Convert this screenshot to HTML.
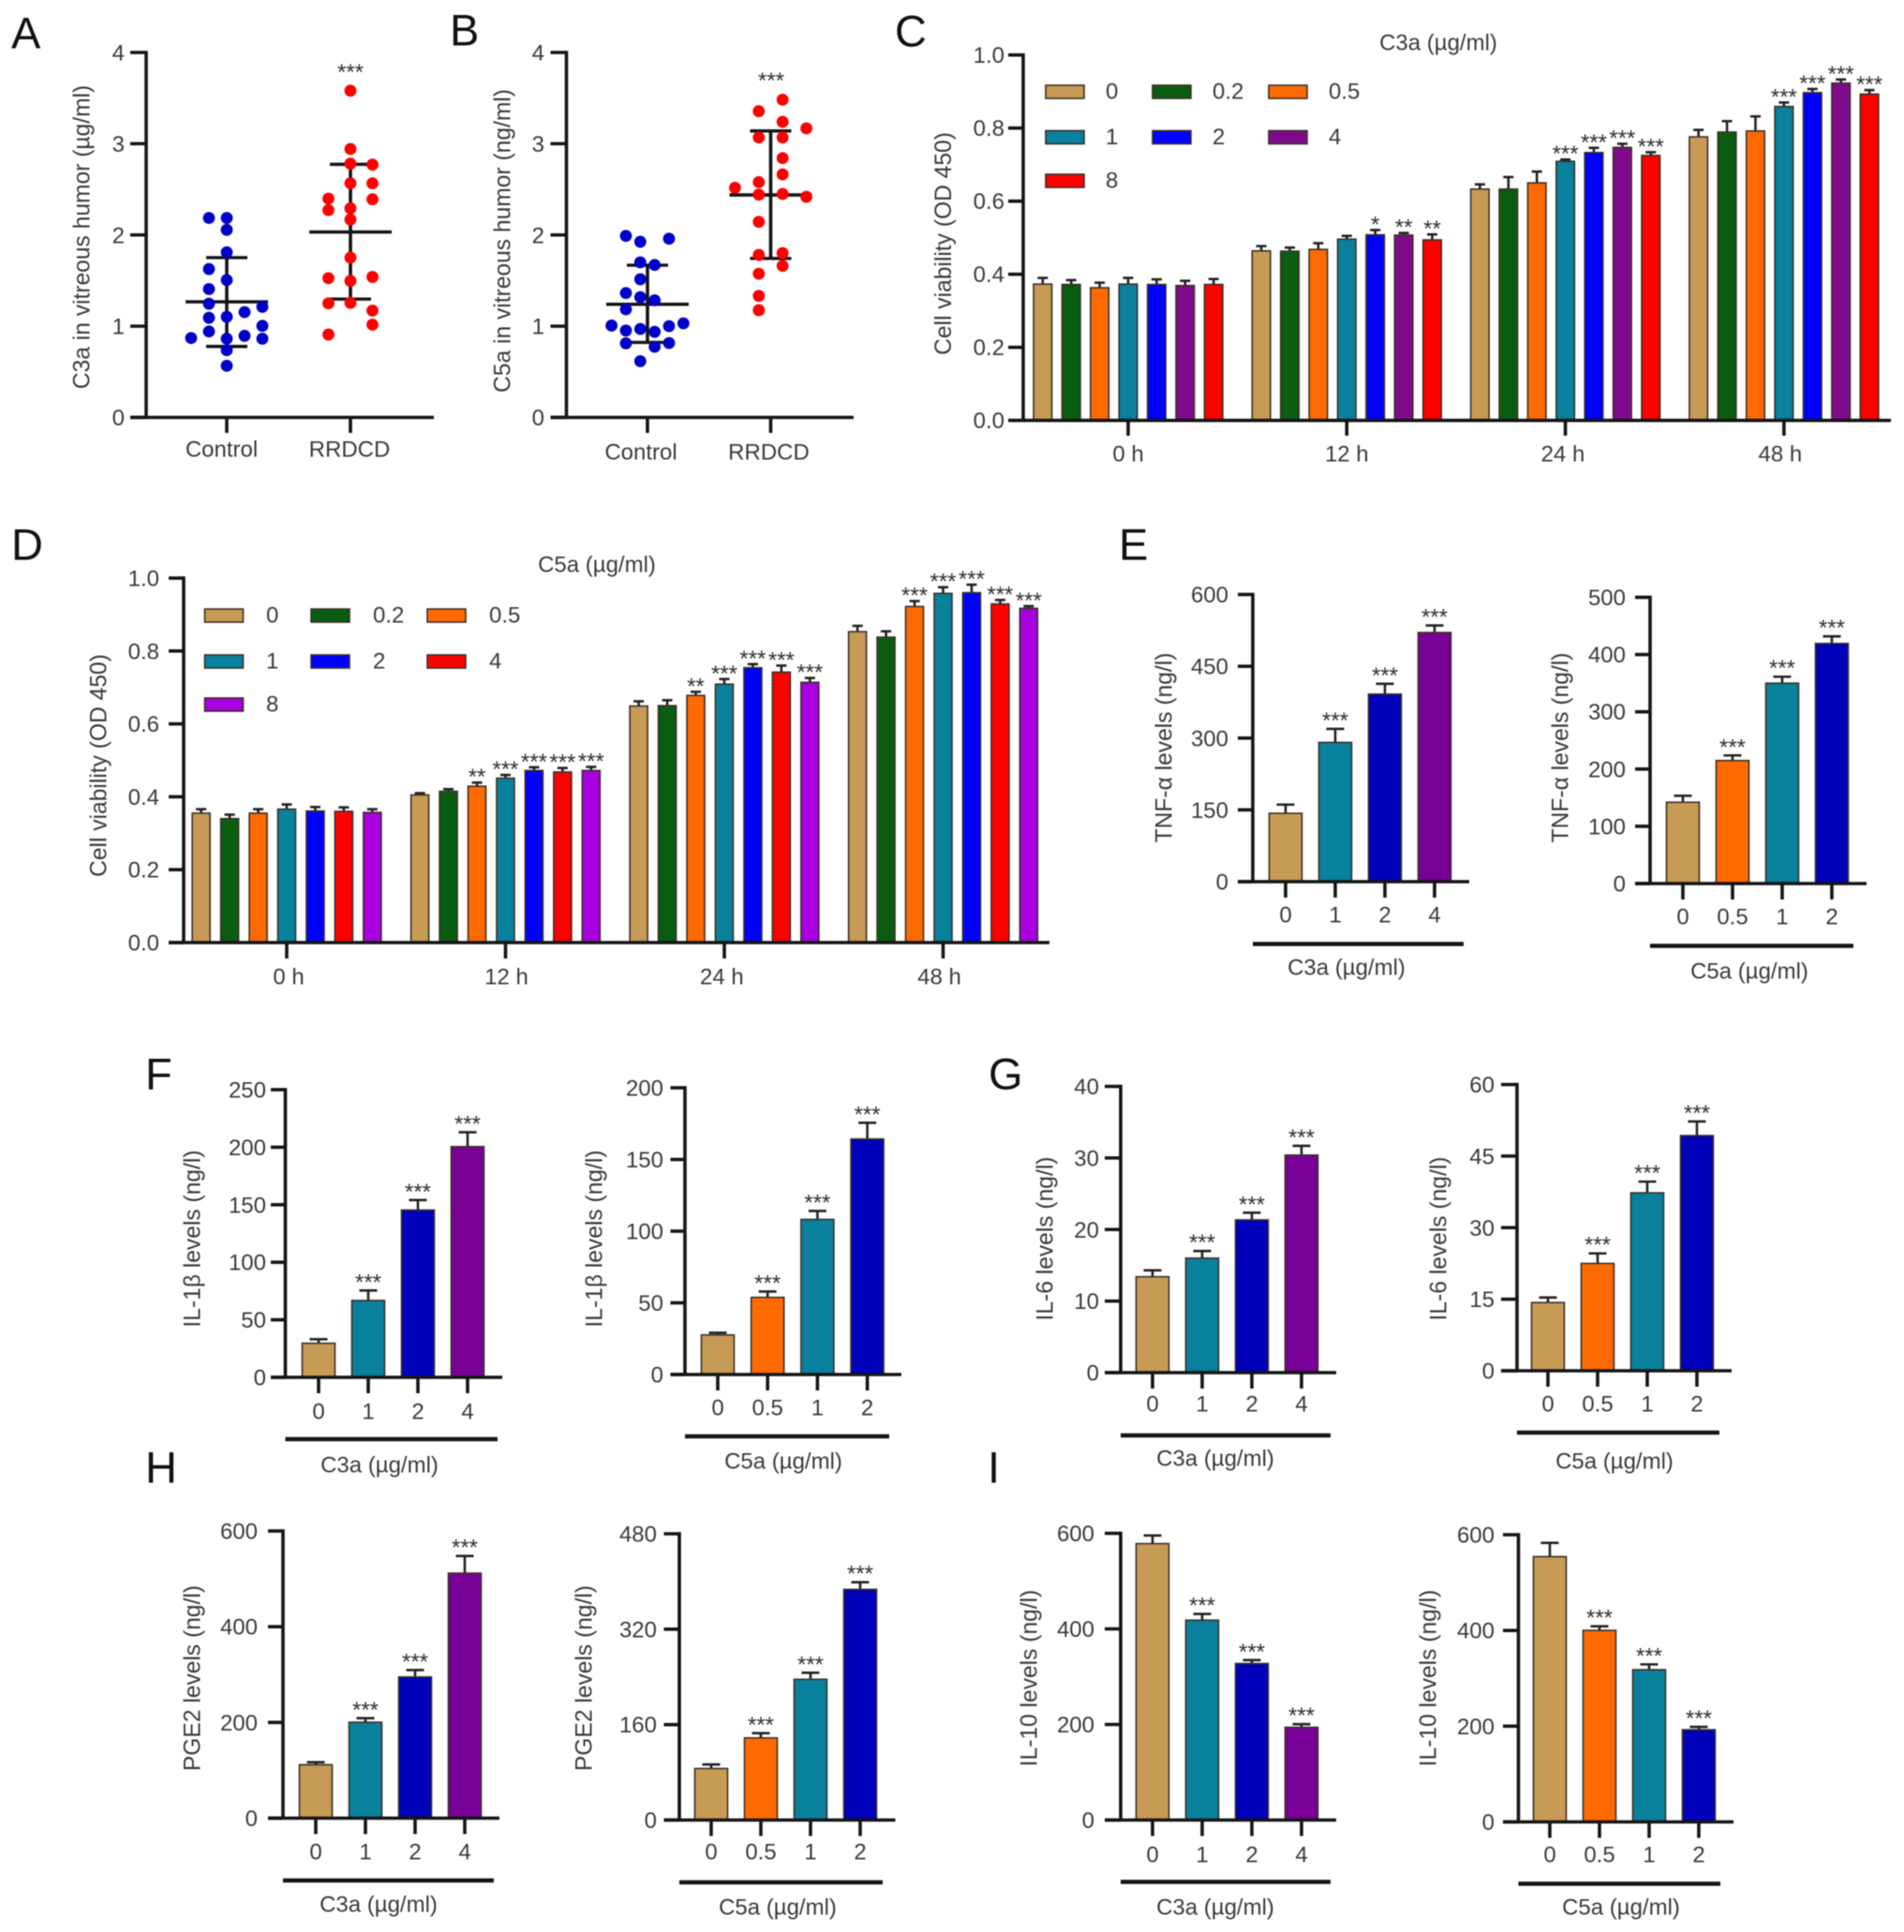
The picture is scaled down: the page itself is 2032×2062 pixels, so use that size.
<!DOCTYPE html>
<html lang="en">
<head>
<meta charset="utf-8">
<title>C3a and C5a levels, cell viability and cytokine panels</title>
<style>
html,body{margin:0;padding:0;background:#fff;width:2032px;height:2062px;overflow:hidden}
svg{display:block;filter:blur(.55px)}
text{font-family:"Liberation Sans",sans-serif;font-size:24px;fill:#3a3a3a}
.letter{font-size:47px;fill:#111;dominant-baseline:central}
.ytitle{font-size:24.6px}
.star{fill:#303030}
</style>
</head>
<body>
<svg id="figure" xmlns="http://www.w3.org/2000/svg" width="2032" height="2062" viewBox="0 0 2032 2062">
  <text class="letter" x="12" y="35">A</text>
  <text class="letter" x="480" y="32">B</text>
  <text class="letter" x="955" y="33">C</text>
  <text class="letter" x="12" y="581">D</text>
  <text class="letter" x="1194" y="581">E</text>
  <text class="letter" x="155" y="1146">F</text>
  <text class="letter" x="1055" y="1146">G</text>
  <text class="letter" x="155" y="1566">H</text>
  <text class="letter" x="1054" y="1566">I</text>
</svg>
<script>
/* ---------- shared categories ---------- */
const groupLabels = ['Control', 'RRDCD'];
const timeLabels = ['0 h', '12 h', '24 h', '48 h'];
const doseSeries = ['0', '0.2', '0.5', '1', '2', '4', '8'];
const c3aDoses = ['0', '1', '2', '4'];
const c5aDoses = ['0', '0.5', '1', '2'];

/* ---------- panel A ---------- */
const aTicks = ['0', '1', '2', '3', '4'];
const aControlValues = [2.186,2.186,2.056,1.81,1.626,1.506,1.407,1.246,1.212,1.154,1.092,1.103,1.003,0.942,0.87,0.894,0.863,0.863,0.737,0.566];
const aControlSwarm = [-1,0,0,0,-1,0,-1,-1,2,1,-1,0,2,-1,-2,1,2,0,0,0];
const aControlStats = [1.267, 0.778, 1.752];
const aDiseaseValues = [3.581,2.942,2.781,2.771,2.566,2.566,2.398,2.391,2.272,2.292,2.169,1.752,1.526,1.54,1.496,1.25,1.256,1.171,1.017,0.908];
const aDiseaseSwarm = [0,0,0,1,0,1,-1,1,-1,0,0,0,-1,1,0,-1,0,1,1,-1];
const aDiseaseStats = [2.032, 1.297, 2.774];

/* ---------- panel B ---------- */
const bTicks = ['0', '1', '2', '3', '4'];
const bControlValues = [1.99,1.925,1.959,1.70,1.671,1.514,1.363,1.318,1.284,1.185,1.007,0.952,0.969,0.938,1.0,1.031,0.812,0.774,0.815,0.616];
const bControlSwarm = [-3,-1,3,-1,1,-1,-3,-1,1,-3,-5,-3,-1,1,3,5,-3,1,3,-1];
const bControlStats = [1.24, 0.822, 1.668];
const bDiseaseValues = [3.483,3.356,3.24,3.168,3.068,3.068,2.842,2.664,2.579,2.517,2.442,2.449,2.418,2.144,1.781,1.801,1.661,1.575,1.332,1.175];
const bDiseaseSwarm = [1,-1,1,3,-1,1,1,1,-1,-3,-1,1,3,-1,-1,1,1,-1,-1,-1];
const bDiseaseStats = [2.438, 1.743, 3.14];

/* ---------- panel C ---------- */
const cTicks = ['0.0', '0.2', '0.4', '0.6', '0.8', '1.0'];
const c0hValues = [0.373,0.372,0.363,0.373,0.372,0.369,0.372];
const c0hErrors = [0.017,0.012,0.014,0.017,0.014,0.013,0.015];
const c0hStars = ['','','','','','',''];
const c12hValues = [0.464,0.463,0.468,0.496,0.508,0.507,0.494];
const c12hErrors = [0.013,0.010,0.017,0.009,0.013,0.006,0.015];
const c12hStars = ['','','','','*','**','**'];
const c24hValues = [0.633,0.633,0.650,0.709,0.733,0.747,0.725];
const c24hErrors = [0.013,0.033,0.031,0.005,0.013,0.010,0.009];
const c24hStars = ['','','','***','***','***','***'];
const c48hValues = [0.776,0.789,0.792,0.859,0.897,0.923,0.893];
const c48hErrors = [0.019,0.030,0.040,0.011,0.010,0.010,0.011];
const c48hStars = ['','','','***','***','***','***'];

/* ---------- panel D ---------- */
const dTicks = ['0.0', '0.2', '0.4', '0.6', '0.8', '1.0'];
const d0hValues = [0.355,0.340,0.355,0.366,0.361,0.360,0.357];
const d0hErrors = [0.011,0.011,0.011,0.013,0.011,0.011,0.009];
const d0hStars = ['','','','','','',''];
const d12hValues = [0.405,0.415,0.429,0.451,0.472,0.468,0.472];
const d12hErrors = [0.005,0.006,0.010,0.009,0.009,0.011,0.010];
const d12hStars = ['','','**','***','***','***','***'];
const d24hValues = [0.649,0.650,0.678,0.709,0.754,0.742,0.714];
const d24hErrors = [0.013,0.015,0.010,0.014,0.010,0.018,0.012];
const d24hStars = ['','','**','***','***','***','***'];
const d48hValues = [0.853,0.838,0.922,0.958,0.960,0.929,0.917];
const d48hErrors = [0.016,0.016,0.015,0.017,0.022,0.011,0.006];
const d48hStars = ['','','***','***','***','***','***'];

/* ---------- panels E to I ---------- */
const e1Ticks = ['0', '150', '300', '450', '600'];
const e1Values = [142.8, 290.9, 391.9, 520.5];
const e1Errors = [18.2, 28.3, 21.5, 14.8];
const e2Ticks = ['0', '100', '200', '300', '400', '500'];
const e2Values = [142, 214.8, 350, 419.4];
const e2Errors = [11.3, 9, 11.3, 12.4];
const f1Ticks = ['0', '50', '100', '150', '200', '250'];
const f1Values = [29.6, 66.8, 145.4, 200.5];
const f1Errors = [3.5, 8.7, 8.7, 12.5];
const f2Ticks = ['0', '50', '100', '150', '200'];
const f2Values = [27.6, 53.8, 108.2, 164.3];
const f2Errors = [1.5, 4.1, 5.9, 11.3];
const g1Ticks = ['0', '10', '20', '30', '40'];
const g1Values = [13.4, 16.0, 21.35, 30.4];
const g1Errors = [0.9, 1.0, 1.0, 1.3];
const g2Ticks = ['0', '15', '30', '45', '60'];
const g2Values = [14.3, 22.5, 37.3, 49.3];
const g2Errors = [1.05, 2.1, 2.35, 2.95];
const h1Ticks = ['0', '200', '400', '600'];
const h1Values = [111.6, 200.4, 295, 511.9];
const h1Errors = [5.2, 8.5, 14.4, 35.9];
const h2Ticks = ['0', '160', '320', '480'];
const h2Values = [86.4, 137.7, 236, 386.8];
const h2Errors = [6.8, 7.9, 11, 12];
const i1Ticks = ['0', '200', '400', '600'];
const i1Values = [578.4, 418.3, 327.5, 194.1];
const i1Errors = [17, 13, 7.2, 6.5];
const i2Ticks = ['0', '200', '400', '600'];
const i2Values = [554.3, 400.2, 318, 192.6];
const i2Errors = [28.7, 8.5, 11.1, 5.9];
const smallStars = ['', '***', '***', '***'];

/* ---------- palettes ---------- */
const TAN = '#c79a55', GREEN = '#0a5c10', ORANGE = '#ff6a00', TEAL = '#09809c', BLUE = '#0000ff',
      PURPLE = '#800a8c', RED = '#ff0000', VIOLET = '#a800e0', NAVY = '#0000bb', PLUM = '#780096';
const cPalette = [TAN, GREEN, ORANGE, TEAL, BLUE, PURPLE, RED];
const dPalette = [TAN, GREEN, ORANGE, TEAL, BLUE, RED, VIOLET];
const c3aPalette = [TAN, TEAL, NAVY, PLUM];
const c5aPalette = [TAN, ORANGE, TEAL, NAVY];

/* ---------- helpers ---------- */
const svg = document.getElementById('figure');
const NS = 'http://www.w3.org/2000/svg';
function add(tag, parent, name) {
  const el = document.createElementNS(NS, tag);
  
  
  parent.appendChild(el);
  return el;
}
function setAll(el, geometry) {
  for (const k in geometry) el.setAttribute(k, geometry[k]);
  return el;
}
function line(parent, name, x1, y1, x2, y2, width, colour) {
  return setAll(add('line', parent, name), {x1, y1, x2, y2, stroke: colour || '#151515', 'stroke-width': width || 3.6});
}
function label(parent, name, str, x, y, anchor, rotate) {
  const t = add('text', parent, name);
  t.textContent = str;
  setAll(t, {x, y, 'text-anchor': anchor || 'middle', 'dominant-baseline': 'central'});
  if (rotate) t.setAttribute('transform', 'rotate(-90 ' + x + ' ' + y + ')');
  return t;
}
function stars(parent, name, str, x, centreY) {
  const t = add('text', parent, name);
  t.textContent = str;
  setAll(t, {x, y: centreY + 14, 'text-anchor': 'middle', class: 'star'});
  return t;
}
function makeY(cfg, ticks) {
  const max = Number(ticks[ticks.length - 1]);
  return v => cfg.y0 - (v / max) * (cfg.y0 - cfg.yTop);
}
function drawYAxis(g, cfg, ticks, y) {
  const axis = add('g', g, 'y-axis');
  line(axis, 'y-axis-line', cfg.axisX, cfg.yTop - 1.8, cfg.axisX, cfg.y0, 3.6);
  ticks.forEach(t => {
    const py = y(Number(t));
    line(axis, 'y-tick', cfg.tickLeft, py, cfg.axisX, py, 3.6);
    label(axis, 'y-tick-label', t, cfg.tickRight, py + 1, 'end');
  });
  label(axis, 'y-axis-title', cfg.yTitle, cfg.yTitleX, cfg.yTitleY, 'middle', true).setAttribute('class', 'ytitle');
}
function drawBar(parent, name, cx, value, error, width, capHalf, colour, y) {
  const top = y(value), errTop = y(value + error);
  line(parent, name + '-error-stem', cx, top, cx, errTop, 2.6, '#222');
  line(parent, name + '-error-cap', cx - capHalf, errTop, cx + capHalf, errTop, 2.6, '#222');
  setAll(add('rect', parent, name), {x: cx - width / 2, y: top, width, height: y(0) - top, fill: colour, stroke: '#3a3026', 'stroke-width': 1.6});
  return errTop;
}

/* ---------- scatter panels ---------- */
function drawScatter(cfg, ticks, groups) {
  const g = add('g', svg, cfg.name);
  const y = makeY(cfg, ticks);
  groups.forEach((grp, i) => {
    const cx = cfg.xStart + i * cfg.xStep;
    const gg = add('g', g, 'group-' + grp.label.toLowerCase());
    const [mean, low, high] = grp.stats;
    line(gg, 'sd-stem', cx, y(low), cx, y(high), 3.6);
    line(gg, 'sd-cap-upper', cx - 22, y(high), cx + 22, y(high), 3.4);
    line(gg, 'sd-cap-lower', cx - 22, y(low), cx + 22, y(low), 3.4);
    line(gg, 'mean-line', cx - 44, y(mean), cx + 44, y(mean), 3.6);
    grp.values.forEach((v, k) => {
      const dot = add('circle', gg, 'data-point');
      setAll(dot, {cx: cx + grp.swarm[k] * grp.unit, cy: y(v), r: 6.4, fill: grp.colour});
    });
  });
  drawYAxis(g, cfg, ticks, y);
  line(g, 'x-axis-line', cfg.tickLeft, cfg.y0, cfg.axisEnd, cfg.y0, 3.6);
  groups.forEach((grp, i) => {
    const cx = cfg.xStart + i * cfg.xStep;
    line(g, 'x-tick', cx, cfg.y0, cx, cfg.tickBottom, 3.6);
    label(g, 'x-tick-label', grp.label, cx + cfg.labelNudge[i], cfg.labelY);
  });
  stars(g, 'significance-stars', '***', cfg.starX, cfg.starY);
}

/* ---------- grouped bar panels ---------- */
function drawGrouped(cfg, ticks, times, seriesValues, seriesErrors, seriesStars, palette, legendNames) {
  const g = add('g', svg, cfg.name);
  const y = makeY(cfg, ticks);
  const mid = (legendNames.length - 1) / 2;
  times.forEach((time, t) => {
    const tx = cfg.xStart + t * cfg.xStep;
    const gg = add('g', g, 'group-' + time.replace(' ', ''));
    seriesValues[t].forEach((v, i) => {
      const cx = tx + (i - mid) * cfg.barStep;
      const errTop = drawBar(gg, 'bar', cx, v, seriesErrors[t][i], cfg.barW, 5.5, palette[i], y);
      if (seriesStars[t][i]) stars(gg, 'significance-stars', seriesStars[t][i], cx, errTop - 12);
    });
  });
  drawYAxis(g, cfg, ticks, y);
  line(g, 'x-axis-line', cfg.tickLeft, cfg.y0, cfg.axisEnd, cfg.y0, 3.6);
  times.forEach((time, t) => {
    const tx = cfg.xStart + t * cfg.xStep;
    line(g, 'x-tick', tx, cfg.y0, tx, cfg.tickBottom, 3.6);
    label(g, 'x-tick-label', time, tx + cfg.labelNudge[t], cfg.labelY);
  });
  label(g, 'legend-title', cfg.title, cfg.titleX, cfg.titleY);
  const legend = add('g', g, 'legend');
  legendNames.forEach((n, i) => {
    const col = i % 3, row = Math.floor(i / 3);
    const entry = add('g', legend, 'legend-entry');
    setAll(add('rect', entry, 'legend-swatch'), {x: cfg.swatchX[col], y: cfg.rowY[row] - 7, width: cfg.swatchW, height: 14, fill: palette[i], stroke: '#3a3026', 'stroke-width': 1.6});
    label(entry, 'legend-label', n, cfg.legendTextX[col], cfg.rowY[row], 'start');
  });
}

/* ---------- small dose-response panels ---------- */
function drawDose(cfg, ticks, doses, values, errors, starMarks, palette) {
  const g = add('g', svg, cfg.name);
  const y = makeY(cfg, ticks);
  doses.forEach((d, i) => {
    const cx = cfg.xStart + i * cfg.xStep;
    const errTop = drawBar(g, 'bar', cx, values[i], errors[i], 35, 9.5, palette[i], y);
    if (starMarks[i]) stars(g, 'significance-stars', starMarks[i], cx, errTop - 15);
  });
  drawYAxis(g, cfg, ticks, y);
  line(g, 'x-axis-line', cfg.tickLeft, cfg.y0, cfg.axisEnd, cfg.y0, 3.6);
  doses.forEach((d, i) => {
    const cx = cfg.xStart + i * cfg.xStep;
    line(g, 'x-tick', cx, cfg.y0, cx, cfg.y0 + 17, 3.6);
    label(g, 'x-tick-label', d, cx, cfg.labelY);
  });
  line(g, 'dose-underline', cfg.axisX, cfg.ruleY, cfg.ruleEnd, cfg.ruleY, 4.6);
  label(g, 'x-axis-title', cfg.title, cfg.titleX, cfg.titleY);
}

/* ---------- draw everything ---------- */
drawScatter({name:'panel-a', axisX:156, tickLeft:139, tickRight:133, axisEnd:463, yTop:56, y0:445.5, xStart:242, xStep:132, tickBottom:462,
  labelY:480, labelNudge:[-5.5,-1], starX:374, starY:71, yTitle:'C3a in vitreous humor (µg/ml)', yTitleX:88, yTitleY:253},
  aTicks, [
    {label:groupLabels[0], values:aControlValues, swarm:aControlSwarm, stats:aControlStats, unit:19, colour:'#0000c8'},
    {label:groupLabels[1], values:aDiseaseValues, swarm:aDiseaseSwarm, stats:aDiseaseStats, unit:23.5, colour:'#ff0000'}
  ]);
drawScatter({name:'panel-b', axisX:604.5, tickLeft:587.5, tickRight:581, axisEnd:911, yTop:56, y0:445.5, xStart:691, xStep:131.5, tickBottom:462,
  labelY:483, labelNudge:[-7,-2], starX:823, starY:80, yTitle:'C5a in vitreous humor (ng/ml)', yTitleX:537, yTitleY:257},
  bTicks, [
    {label:groupLabels[0], values:bControlValues, swarm:bControlSwarm, stats:bControlStats, unit:7.67, colour:'#0000c8'},
    {label:groupLabels[1], values:bDiseaseValues, swarm:bDiseaseSwarm, stats:bDiseaseStats, unit:12.7, colour:'#ff0000'}
  ]);

drawGrouped({name:'panel-c', axisX:1092, tickLeft:1076, tickRight:1072, axisEnd:2018, yTop:58.7, y0:448.7, xStart:1204, xStep:233.3, barStep:30.4, barW:19.5,
  tickBottom:465, labelY:485, labelNudge:[0,0,-2.6,-4], title:'C3a (µg/ml)', titleX:1535, titleY:46, swatchX:[1116,1230,1354], swatchW:41, rowY:[98,146.5,193], legendTextX:[1180,1294,1418],
  yTitle:'Cell viability (OD 450)', yTitleX:1007.5, yTitleY:260},
  cTicks, timeLabels,
  [c0hValues, c12hValues, c24hValues, c48hValues],
  [c0hErrors, c12hErrors, c24hErrors, c48hErrors],
  [c0hStars, c12hStars, c24hStars, c48hStars], cPalette, doseSeries);

drawGrouped({name:'panel-d', axisX:196, tickLeft:180, tickRight:170, axisEnd:1120, yTop:617, y0:1006, xStart:306, xStep:233.5, barStep:30.45, barW:19,
  tickBottom:1023, labelY:1043, labelNudge:[2,1,-2.6,-4], title:'C5a (µg/ml)', titleX:637, titleY:603, swatchX:[218.5,332,456], swatchW:41, rowY:[657,706,752], legendTextX:[284,398,522],
  yTitle:'Cell viability (OD 450)', yTitleX:106, yTitleY:817},
  dTicks, timeLabels,
  [d0hValues, d12hValues, d24hValues, d48hValues],
  [d0hErrors, d12hErrors, d24hErrors, d48hErrors],
  [d0hStars, d12hStars, d24hStars, d48hStars], dPalette, doseSeries);

drawDose({name:'panel-e-c3a', axisX:1337, tickLeft:1321, tickRight:1311, axisEnd:1568, yTop:634.5, y0:941, xStart:1372, xStep:53, labelY:977, ruleY:1007.5, ruleEnd:1562,
  title:'C3a (µg/ml)', titleX:1437, titleY:1033, yTitle:'TNF-α levels (ng/l)', yTitleX:1243, yTitleY:798},
  e1Ticks, c3aDoses, e1Values, e1Errors, smallStars, c3aPalette);
drawDose({name:'panel-e-c5a', axisX:1761, tickLeft:1745, tickRight:1735, axisEnd:1992, yTop:637.5, y0:943, xStart:1796, xStep:53, labelY:979, ruleY:1009.5, ruleEnd:1978,
  title:'C5a (µg/ml)', titleX:1867, titleY:1037, yTitle:'TNF-α levels (ng/l)', yTitleX:1666, yTitleY:798},
  e2Ticks, c5aDoses, e2Values, e2Errors, smallStars, c5aPalette);

drawDose({name:'panel-f-c3a', axisX:304.5, tickLeft:289, tickRight:284, axisEnd:536, yTop:1163, y0:1470, xStart:340, xStep:53, labelY:1507, ruleY:1536, ruleEnd:531,
  title:'C3a (µg/ml)', titleX:405, titleY:1564, yTitle:'IL-1β levels (ng/l)', yTitleX:206, yTitleY:1322},
  f1Ticks, c3aDoses, f1Values, f1Errors, smallStars, c3aPalette);
drawDose({name:'panel-f-c5a', axisX:731, tickLeft:715.5, tickRight:708, axisEnd:962, yTop:1161, y0:1467, xStart:766, xStep:53.2, labelY:1503, ruleY:1533, ruleEnd:949,
  title:'C5a (µg/ml)', titleX:836, titleY:1560, yTitle:'IL-1β levels (ng/l)', yTitleX:635, yTitleY:1322},
  f2Ticks, c5aDoses, f2Values, f2Errors, smallStars, c5aPalette);

drawDose({name:'panel-g-c3a', axisX:1196, tickLeft:1179, tickRight:1173, axisEnd:1426, yTop:1159.5, y0:1465, xStart:1230, xStep:53, labelY:1499, ruleY:1532, ruleEnd:1420,
  title:'C3a (µg/ml)', titleX:1297, titleY:1557, yTitle:'IL-6 levels (ng/l)', yTitleX:1116, yTitleY:1322},
  g1Ticks, c3aDoses, g1Values, g1Errors, smallStars, c3aPalette);
drawDose({name:'panel-g-c5a', axisX:1619, tickLeft:1602, tickRight:1595, axisEnd:1848, yTop:1157.5, y0:1463, xStart:1652, xStep:53, labelY:1499, ruleY:1529, ruleEnd:1835,
  title:'C5a (µg/ml)', titleX:1723, titleY:1560, yTitle:'IL-6 levels (ng/l)', yTitleX:1536, yTitleY:1322},
  g2Ticks, c5aDoses, g2Values, g2Errors, smallStars, c5aPalette);

drawDose({name:'panel-h-c3a', axisX:302, tickLeft:286, tickRight:275, axisEnd:533, yTop:1634, y0:1940.5, xStart:337, xStep:53, labelY:1977, ruleY:2007, ruleEnd:527,
  title:'C3a (µg/ml)', titleX:404, titleY:2033, yTitle:'PGE2 levels (ng/l)', yTitleX:206, yTitleY:1791},
  h1Ticks, c3aDoses, h1Values, h1Errors, smallStars, c3aPalette);
drawDose({name:'panel-h-c5a', axisX:725, tickLeft:708.5, tickRight:701, axisEnd:955.5, yTop:1637, y0:1942.5, xStart:759, xStep:53, labelY:1977, ruleY:2009, ruleEnd:942,
  title:'C5a (µg/ml)', titleX:830, titleY:2036, yTitle:'PGE2 levels (ng/l)', yTitleX:624, yTitleY:1791},
  h2Ticks, c5aDoses, h2Values, h2Errors, smallStars, c5aPalette);

drawDose({name:'panel-i-c3a', axisX:1196, tickLeft:1179, tickRight:1168, axisEnd:1426, yTop:1636.5, y0:1942.5, xStart:1230, xStep:53, labelY:1980, ruleY:2008.5, ruleEnd:1420,
  title:'C3a (µg/ml)', titleX:1297, titleY:2036, yTitle:'IL-10 levels (ng/l)', yTitleX:1099, yTitleY:1791},
  i1Ticks, c3aDoses, i1Values, i1Errors, ['', '***', '***', '***'], c3aPalette);
drawDose({name:'panel-i-c5a', axisX:1620.5, tickLeft:1604, tickRight:1595, axisEnd:1850, yTop:1638, y0:1944.5, xStart:1654, xStep:53, labelY:1980, ruleY:2010.5, ruleEnd:1836,
  title:'C5a (µg/ml)', titleX:1730, titleY:2036, yTitle:'IL-10 levels (ng/l)', yTitleX:1525, yTitleY:1791},
  i2Ticks, c5aDoses, i2Values, i2Errors, ['', '***', '***', '***'], c5aPalette);
</script>
</body>
</html>
